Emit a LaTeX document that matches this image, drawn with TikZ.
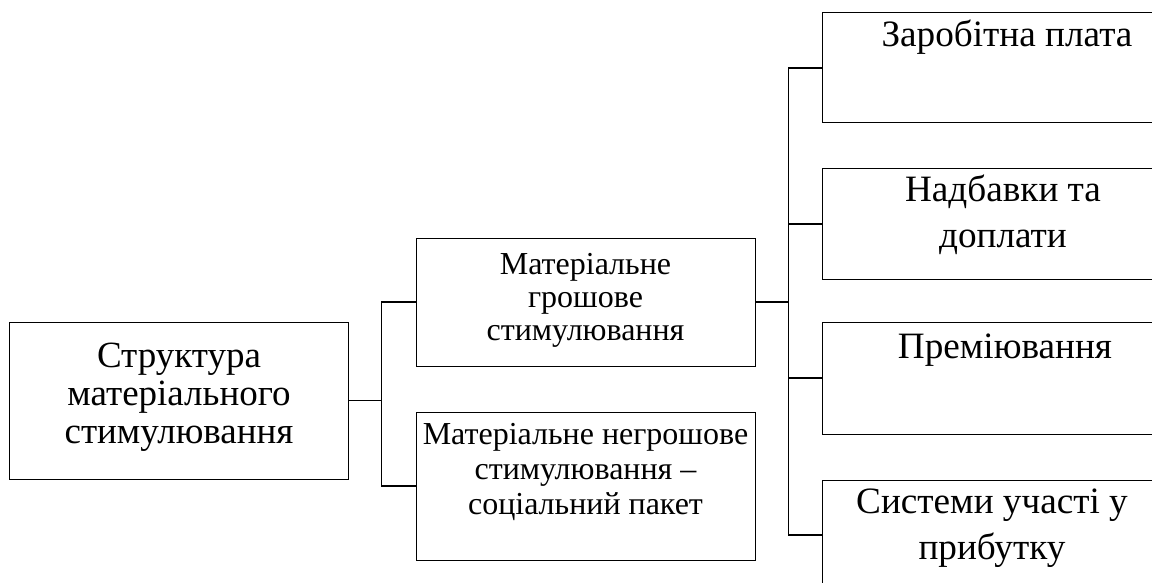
\documentclass[tikz,border=0pt]{standalone}
\usepackage{fontspec}
\setmainfont{Liberation Serif}
\begin{document}
\begin{tikzpicture}[x=1pt,y=-1pt,
  box/.style={draw=black,line width=1pt,inner sep=0pt},
  conn/.style={draw=black,line width=1.1pt},
  lbl/.style={anchor=base,inner sep=0pt},
  rootfont/.style={font=\fontsize{37}{38}\selectfont},
  midfont/.style={font=\fontsize{32}{33}\selectfont},
  midfontb/.style={font=\fontsize{32}{35}\selectfont},
  rightfont/.style={font=\fontsize{37.2}{46}\selectfont}]
\useasboundingbox (0,0) rectangle (1152,583);
\clip (0,0) rectangle (1152,583);
\fill[white] (0,0) rectangle (1152,583);
% boxes
\node[box,minimum width=339pt,minimum height=157pt] (root) at (178.5,400.5) {};
\node[box,minimum width=339pt,minimum height=128pt] (m1) at (585.5,302) {};
\node[box,minimum width=339pt,minimum height=148pt] (m2) at (585.5,486) {};
\node[box,minimum width=358pt,minimum height=110pt] (r1) at (1001,68) {};
\node[box,minimum width=358pt,minimum height=110pt] (r2) at (1001,224) {};
\node[box,minimum width=358pt,minimum height=112pt] (r3) at (1001,378) {};
\node[box,minimum width=358pt,minimum height=110pt] (r4) at (1001,535) {};
% texts
\node[lbl,rootfont] (troot) at (179,367) {\begin{tabular}[t]{@{}c@{}}Структура\\матеріального\\стимулювання\end{tabular}};
\node[lbl,midfont] (tm1) at (585.5,274) {\begin{tabular}[t]{@{}c@{}}Матеріальне\\грошове\\стимулювання\end{tabular}};
\node[lbl,midfontb] (tm2) at (585.5,444) {\begin{tabular}[t]{@{}c@{}}Матеріальне негрошове\\стимулювання –\\соціальний пакет\end{tabular}};
\node[lbl,rightfont] (tr1) at (1007,47) {Заробітна плата};
\node[lbl,rightfont] (tr2) at (1003,202) {\begin{tabular}[t]{@{}c@{}}Надбавки та\\доплати\end{tabular}};
\node[lbl,rightfont] (tr3) at (1005,358) {Преміювання};
\node[lbl,rightfont] (tr4) at (992,513) {\begin{tabular}[t]{@{}c@{}}Системи участі у\\прибутку\end{tabular}};
% connectors
\draw[conn] (m1.west) -- ++(-34,0) |- (root.east);
\draw[conn] (m2.west) -- ++(-34,0) |- (root.east);
\draw[conn] (r1.west) -- ++(-33,0) |- (m1.east);
\draw[conn] (r2.west) -- ++(-33,0) |- (m1.east);
\draw[conn] (r3.west) -- ++(-33,0) |- (m1.east);
\draw[conn] (r4.west) -- ++(-33,0) |- (m1.east);
\end{tikzpicture}
\end{document}
